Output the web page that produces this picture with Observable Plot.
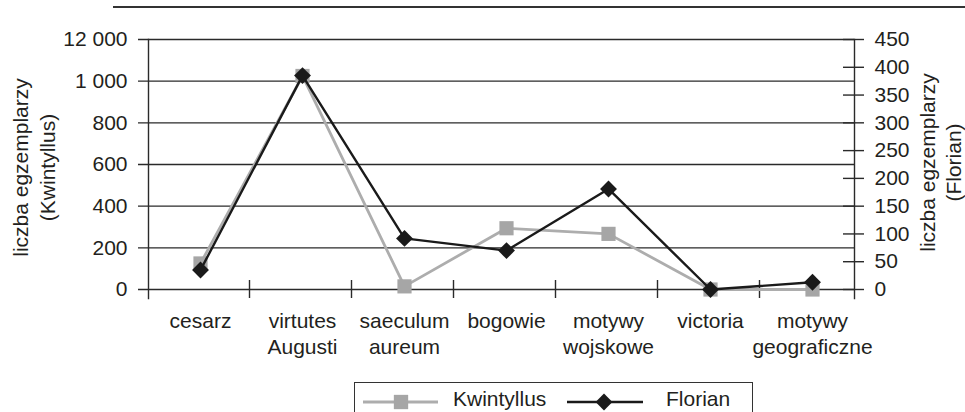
<!DOCTYPE html>
<html><head><meta charset="utf-8">
<script src="https://cdn.jsdelivr.net/npm/d3@7"></script>
<script src="https://cdn.jsdelivr.net/npm/@observablehq/plot@0.6"></script>
<style>
body{margin:0;background:#fff;font-family:"Liberation Sans",Arial,sans-serif;color:#231f20;}
#wrap{position:relative;width:965px;height:412px;overflow:hidden;background:#fff;}
#topline{position:absolute;left:113px;top:6px;width:852px;height:2px;background:#333;}
#chart{position:absolute;left:0;top:0;}
#legend{position:absolute;left:354px;top:382px;width:399px;height:40px;border:1px solid #333;box-sizing:border-box;background:#fff;}
#legend svg{position:absolute;left:-1px;top:-1px;}
</style></head><body>
<div id="wrap"><div id="topline"></div><div id="chart"></div><div id="legend"></div></div>
<script>
const categories = ["cesarz","virtutes Augusti","saeculum aureum","bogowie","motywy wojskowe","victoria","motywy geograficzne"];
const categoryLabels = ["cesarz","virtutes\nAugusti","saeculum\naureum","bogowie","motywy\nwojskowe","victoria","motywy\ngeograficzne"];
const kwintyllus = [125, 1025, 15, 294, 267, 0, 0];
const florian = [35, 385, 92, 70, 181, 0, 13];
const leftTicks = [0, 200, 400, 600, 800, 1000, 1200];
const leftTickLabels = ["0", "200", "400", "600", "800", "1 000", "12 000"];
const rightTicks = [0, 50, 100, 150, 200, 250, 300, 350, 400, 450];
const seriesNames = ["Kwintyllus", "Florian"];
const leftTitle = "liczba egzemplarzy\n(Kwintyllus)";
const rightTitle = "liczba egzemplarzy\n(Florian)";
const leftMax = 1200, rightMax = 450;

const k = leftMax / rightMax;
const kData = categories.map((c, i) => ({cat: c, v: kwintyllus[i]}));
const fData = categories.map((c, i) => ({cat: c, v: florian[i] * k}));
const ink = "#2a2a2a";
const grayC = "#adadad", blackC = "#1a1a1a";

const chart = Plot.plot({
  width: 965, height: 380,
  marginLeft: 148, marginRight: 111, marginTop: 39, marginBottom: 91,
  style: {fontSize: "21px", fontFamily: "'Liberation Sans', Arial, sans-serif", color: "#231f20", background: "transparent", overflow: "visible"},
  x: {type: "point", domain: categories, range: [200, 812], padding: 0, label: null},
  y: {domain: [0, leftMax], label: null},
  marks: [
    Plot.tickY(leftTicks, {y: d => d, insetLeft: -10, stroke: ink, strokeWidth: 1.4}),
    Plot.tickY(rightTicks.map(t => t * k), {y: d => d, insetLeft: 695, insetRight: -10, stroke: ink, strokeWidth: 1.4}),
    Plot.tickX(categories.slice(1), {x: d => d, dx: -53, insetTop: 241, insetBottom: -9, stroke: ink, strokeWidth: 1.4}),
    Plot.frame({anchor: "left", insetBottom: -9, stroke: ink, strokeWidth: 1.4}),
    Plot.frame({anchor: "right", insetBottom: -9, stroke: ink, strokeWidth: 1.4}),
    Plot.axisY({anchor: "left", ticks: leftTicks, tickFormat: d => leftTickLabels[leftTicks.indexOf(d)], tickSize: 0, tickPadding: 21, label: null}),
    Plot.axisY({anchor: "right", ticks: rightTicks.map(t => t * k), tickFormat: d => String(Math.round(d / k)), tickSize: 0, tickPadding: 20, label: null}),
    Plot.axisX({anchor: "bottom", tickSize: 0, tickPadding: 21, tickFormat: d => categoryLabels[categories.indexOf(d)], label: null, lineHeight: 1.2}),
    Plot.text([leftTitle], {frameAnchor: "left", textAnchor: "middle", dx: -116, dy: 3, rotate: -90, lineHeight: 1.3, fill: "#231f20"}),
    Plot.text([rightTitle], {frameAnchor: "right", textAnchor: "middle", dx: 85, dy: -2, rotate: -90, lineHeight: 1.25, fill: "#231f20"}),
    Plot.line(kData, {x: "cat", y: "v", stroke: grayC, strokeWidth: 2.8}),
    Plot.dot(kData, {x: "cat", y: "v", symbol: "square", r: 8, fill: "#a6a6a6", stroke: "none"}),
    Plot.line(fData, {x: "cat", y: "v", stroke: blackC, strokeWidth: 2.4}),
    Plot.dot(fData, {x: "cat", y: "v", symbol: "diamond2", r: 7.6, fill: blackC, stroke: "none"})
  ]
});
document.getElementById("chart").appendChild(chart);

// legend
const lg = d3.select("#legend").append("svg").attr("width", 400).attr("height", 42)
  .style("font-family", "'Liberation Sans', Arial, sans-serif").style("font-size", "21px");
lg.append("line").attr("x1", 9).attr("x2", 84).attr("y1", 20).attr("y2", 20).attr("stroke", grayC).attr("stroke-width", 2.8);
lg.append("path").attr("transform", "translate(47,20)").attr("d", d3.symbol(d3.symbolSquare, 205)()).attr("fill", "#a6a6a6");
lg.append("text").attr("x", 99).attr("y", 24).attr("fill", "#231f20").text(seriesNames[0]);
lg.append("line").attr("x1", 213).attr("x2", 289).attr("y1", 20).attr("y2", 20).attr("stroke", blackC).attr("stroke-width", 2.4);
lg.append("path").attr("transform", "translate(250,20)").attr("d", d3.symbol(d3.symbolDiamond2, 180)()).attr("fill", blackC);
lg.append("text").attr("x", 312).attr("y", 24).attr("fill", "#231f20").text(seriesNames[1]);
</script>
</body></html>
